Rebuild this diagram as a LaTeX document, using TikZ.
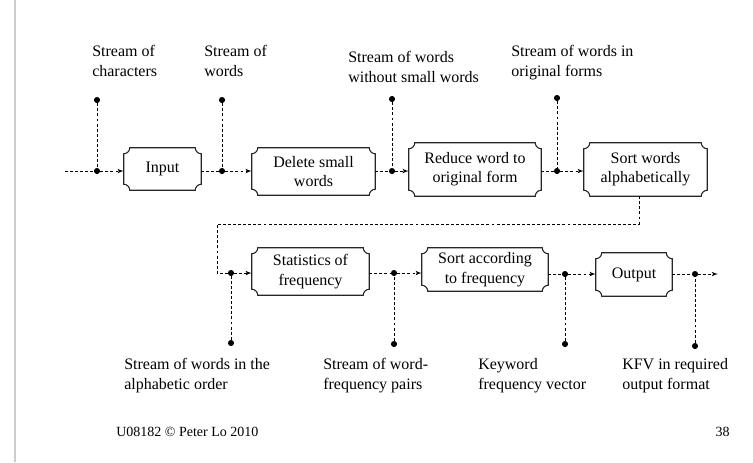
\documentclass[tikz,border=0pt]{standalone}
\usepackage{fontspec}
\setmainfont{Liberation Serif}
\usetikzlibrary{arrows}
\tikzset{
  txt/.style = {font=\fontsize{12}{14.5}\selectfont},
  procbox/.style 2 args = {txt, align=center, inner sep=0pt,
    minimum width=#1*0.75pt, minimum height=#2*0.75pt},
  dotnode/.style = {circle, fill=black, inner sep=0pt, minimum size=4.6pt},
  flowline/.style = {dash pattern=on 2.2pt off 1.6pt, line width=0.6pt},
  streamlbl/.style = {txt, align=left, inner sep=0pt, anchor=base west},
}
\newcommand{\notchr}{4.5pt}
% outline with concave corners round a named node
\newcommand{\notchoutline}[1]{%
  \draw[line width=0.8pt, black!85]
    ([xshift=\notchr]#1.north west) -- ([xshift=-\notchr]#1.north east)
    arc[start angle=180, end angle=270, radius=\notchr]
    -- ([yshift=\notchr]#1.south east)
    arc[start angle=90, end angle=180, radius=\notchr]
    -- ([xshift=\notchr]#1.south west)
    arc[start angle=0, end angle=90, radius=\notchr]
    -- ([yshift=-\notchr]#1.north west)
    arc[start angle=270, end angle=360, radius=\notchr] -- cycle;}

\begin{document}
\begin{tikzpicture}[x=0.75pt, y=-0.75pt, >=latex']
\useasboundingbox (0,0) rectangle (753,462);
\draw[black!20, line width=0.8pt] (15,0) -- (15,462);

% process boxes
\node[procbox={77}{42}] (input) at (162.5,169) {Input};
\node[procbox={123}{47}] (delsmall) at (313.5,171.5) {Delete small\\words};
\node[procbox={132}{53}] (reduce) at (475,169.5) {Reduce word to\\original form};
\node[procbox={123}{53}] (sortalpha) at (645.5,169.5) {Sort words\\alphabetically};
\node[procbox={117}{47}] (stats) at (310.5,271.5) {Statistics of\\frequency};
\node[procbox={126}{43}] (sortfreq) at (485,269.5) {Sort according\\to frequency};
\node[procbox={76}{43}] (output) at (634,274.5) {Output};
\foreach \b in {input,delsmall,reduce,sortalpha,stats,sortfreq,output}
  \notchoutline{\b};

% junction dots on the flow
\node[dotnode] (p1) at (97,171) {};
\node[dotnode] (p2) at (222,171) {};
\node[dotnode] (p3) at (392,171) {};
\node[dotnode] (p4) at (557,171) {};
\node[dotnode] (p5) at (231,273) {};
\node[dotnode] (p6) at (394,273) {};
\node[dotnode] (p7) at (565,274) {};
\node[dotnode] (p8) at (695,274) {};

% end dots of the taps
\node[dotnode] (q1) at (97,100) {};
\node[dotnode] (q2) at (222,100) {};
\node[dotnode] (q3) at (392,99) {};
\node[dotnode] (q4) at (557,98) {};
\node[dotnode] (q5) at (231,343) {};
\node[dotnode] (q6) at (394,344) {};
\node[dotnode] (q7) at (565,344) {};
\node[dotnode] (q8) at (695,346) {};

\coordinate (start) at (65,171);
\coordinate (drop) at (639,224);
\coordinate (turn) at (217,224);
\coordinate (finish) at (718,274);

% flow
\draw[flowline] (start) -- (p1);
\draw[flowline,->] (p1) -- (p1 -| input.west);
\draw[flowline] (p2 -| input.east) -- (p2);
\draw[flowline,->] (p2) -- (p2 -| delsmall.west);
\draw[flowline] (p3 -| delsmall.east) -- (p3);
\draw[flowline,->] (p3) -- (p3 -| reduce.west);
\draw[flowline] (p4 -| reduce.east) -- (p4);
\draw[flowline,->] (p4) -- (p4 -| sortalpha.west);
\draw[flowline] (drop |- sortalpha.south) -- (drop) -- (turn) -- (turn |- p5) -- (p5);
\draw[flowline,->] (p5) -- (p5 -| stats.west);
\draw[flowline] (p6 -| stats.east) -- (p6);
\draw[flowline,->] (p6) -- (p6 -| sortfreq.west);
\draw[flowline] (p7 -| sortfreq.east) -- (p7);
\draw[flowline,->] (p7) -- (p7 -| output.west);
\draw[flowline] (p8 -| output.east) -- (p8);
\draw[flowline,->] (p8) -- (finish);

% taps
\foreach \i in {1,...,8}
  \draw[flowline] (q\i) -- (p\i);

% stream labels (base = last line)
\node[streamlbl] (l1) at (92,76) {Stream of\\characters};
\node[streamlbl] (l2) at (204,76) {Stream of\\words};
\node[streamlbl] (l3) at (348,82) {Stream of words\\without small words};
\node[streamlbl] (l4) at (511,76) {Stream of words in\\original forms};
\node[streamlbl] (l5) at (124,389) {Stream of words in the\\alphabetic order};
\node[streamlbl] (l6) at (323,389) {Stream of word-\\frequency pairs};
\node[streamlbl] (l7) at (478,389) {Keyword\\frequency vector};
\node[streamlbl] (l8) at (622,389) {KFV in required\\output format};

% footer
\node[txt, inner sep=0pt, anchor=base west, font=\fontsize{10.5}{12}\selectfont] (foot) at (116,436) {U08182 \textcopyright{} Peter Lo 2010};
\node[txt, inner sep=0pt, anchor=base east, font=\fontsize{10.5}{12}\selectfont] (page) at (730,436) {38};
\end{tikzpicture}
\end{document}
